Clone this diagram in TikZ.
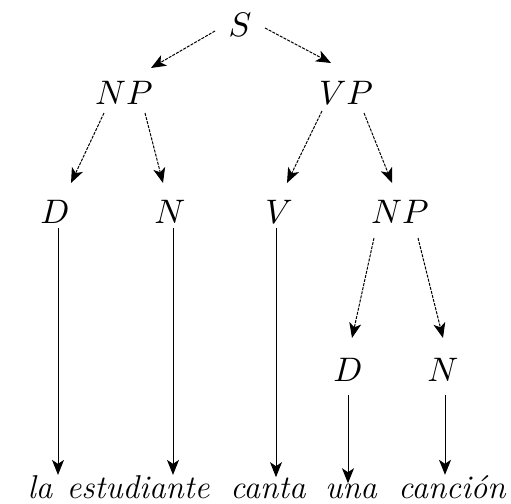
\documentclass[tikz,border=0pt]{standalone}
\usepackage{graphicx}
\usetikzlibrary{arrows.meta,calc}
\newcommand{\bigcat}[1]{\scalebox{3.4}{$#1$}}
\begin{document}
\begin{tikzpicture}[x=1pt,y=-1pt,
  cat/.style={inner sep=3pt},
  word/.style={inner sep=2pt,anchor=base,font=\fontsize{33}{38}\selectfont\itshape},
  arr/.style={line width=1pt,-{Stealth[length=15pt,width=12pt,inset=4pt]}},
  darr/.style={arr,dash pattern=on 3pt off 1.2pt}]
\useasboundingbox (0,0) rectangle (511,503);
% categories
\node[cat] (S)   at (240,25)  {\bigcat{S}};
\node[cat] (NP)  at (124,93)  {\bigcat{NP}};
\node[cat] (VP)  at (346,93)  {\bigcat{VP}};
\node[cat] (D)   at (55,212)  {\bigcat{D}};
\node[cat] (N)   at (170,212) {\bigcat{N}};
\node[cat] (V)   at (279,212) {\bigcat{V}};
\node[cat] (NPb) at (400,212) {\bigcat{NP}};
\node[cat] (Db)  at (348,370) {\bigcat{D}};
\node[cat] (Nb)  at (443,370) {\bigcat{N}};
% words
\node[word] (la)  at (40,498)  {la};
\node[word] (est) at (138,498) {estudiante};
\node[word] (can) at (268,498) {canta};
\node[word] (una) at (351,498) {una};
\node[word] (cnc) at (452,498) {canción};
% diagonal connectors
\draw[darr] ($(S)+(-25,6)$)   -- ($(NP)+(27,-25)$);
\draw[darr] ($(S)+(25,3)$)    -- ($(VP)+(-15,-30)$);
\draw[darr] ($(NP)+(-20,20)$) -- ($(D)+(16,-29)$);
\draw[darr] ($(NP)+(21,20)$)  -- ($(N)+(-7,-29)$);
\draw[darr] ($(VP)+(-24,18)$) -- ($(V)+(8,-29)$);
\draw[darr] ($(VP)+(18,20)$)  -- ($(NPb)+(-8,-29)$);
\draw[darr] ($(NPb)+(-26,26)$) -- ($(Db)+(4,-32)$);
\draw[darr] ($(NPb)+(18,26)$)  -- ($(Nb)+(0,-32)$);
% vertical connectors
\coordinate (dD) at ($(D.south)+(3,1)$);
\coordinate (dN) at ($(N.south)+(3,1)$);
\coordinate (dV) at ($(V.south)+(-3,1)$);
\coordinate (dDb) at ($(Db.south)+(0,10)$);
\coordinate (dNb) at ($(Nb.south)+(2,10)$);
\draw[arr] (dD) -- ($(dD |- la.north)+(0,2)$);
\draw[arr] (dN) -- ($(dN |- est.north)+(0,2)$);
\draw[arr] (dV) -- ($(dV |- can.north)+(0,2)$);
\draw[arr] (dDb) -- ($(dDb |- una.north)+(0,2)$);
\draw[arr] (dNb) -- ($(dNb |- cnc.north)+(0,2)$);
\end{tikzpicture}
\end{document}
